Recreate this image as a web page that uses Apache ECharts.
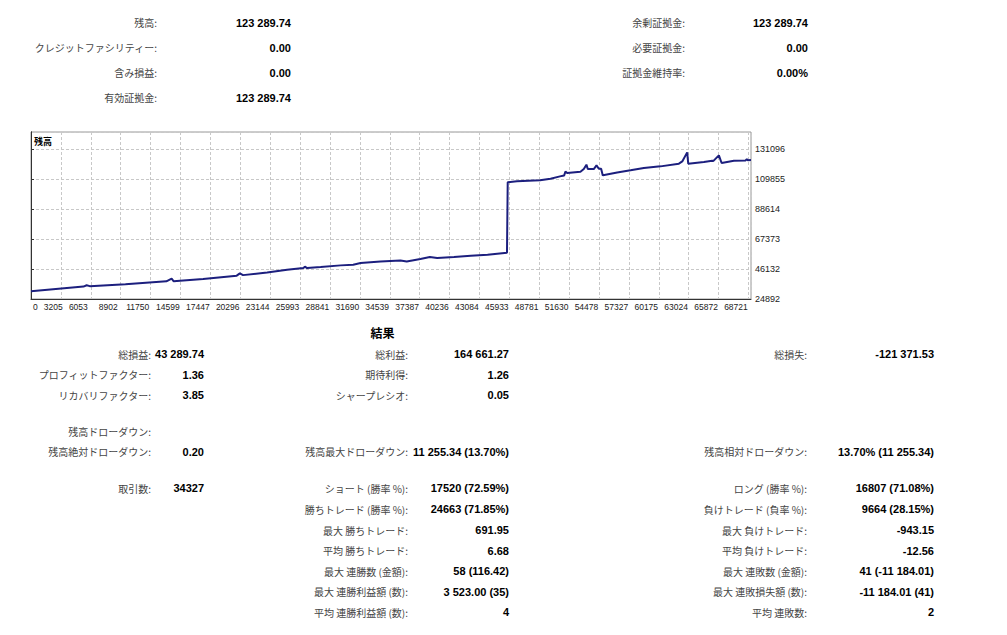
<!DOCTYPE html>
<html lang="ja">
<head>
<meta charset="UTF-8">
<title>残高</title>
<style>
  * { margin: 0; padding: 0; box-sizing: border-box; }
  body { background: #fff; }
  #report { width: 1007px; height: 635px; }
</style>
<script src="https://cdn.jsdelivr.net/npm/echarts@6/dist/echarts.min.js"></script>
</head>
<body>
<div id="report"></div>
<script>
// 残高カーブ (取引番号, 残高)
const balanceX = [0, 5000, 5300, 5600, 9000, 12900, 13400, 13600, 14200, 16400, 19600, 19900, 20200,
  22500, 24400, 25950, 26100, 26300, 27600, 29500, 30700, 31400, 33300, 35200, 35800, 37100, 38000,
  38700, 40300, 41900, 43500, 45350, 45420, 46300, 48500, 49500, 50400, 50800, 50920, 51080, 52350,
  52670, 52920, 53050, 53620, 53880, 54100, 54320, 54480, 54740, 55850, 57120, 58390, 59980, 61730,
  62050, 62520, 62620, 64110, 64900, 65000, 65540, 65800, 66970, 68090, 68200, 68300, 68600];
const balanceY = [30300, 33700, 34600, 34000, 35400, 37400, 39300, 37400, 37800, 39000, 41400, 43000, 41800,
  43700, 45600, 46800, 47800, 46800, 47500, 48700, 49200, 50400, 51500, 52200, 51500, 53200, 54600,
  53900, 54600, 55500, 56300, 57600, 107500, 108200, 108900, 110100, 111700, 112400, 115200, 114100, 115000,
  116900, 120000, 116900, 116900, 119500, 117100, 117100, 112400, 112900, 114500, 116000, 117600, 118800, 120700,
  122300, 128700, 120700, 121900, 122800, 122500, 126600, 121200, 122800, 123000, 123900, 123100, 123290];

// 軸ラベル
const xLabels = ['0', '3205', '6053', '8902', '11750', '14599', '17447', '20296', '23144', '25993', '28841',
  '31690', '34539', '37387', '40236', '43084', '45933', '48781', '51630', '54478', '57327', '60175',
  '63024', '65872', '68721'];
const yLabels = ['24892', '46132', '67373', '88614', '109855', '131096'];

// 口座情報
const topLeftLabels = ['残高:', 'クレジットファシリティー:', '含み損益:', '有効証拠金:'];
const topLeftValues = ['123 289.74', '0.00', '0.00', '123 289.74'];
const topRightLabels = ['余剰証拠金:', '必要証拠金:', '証拠金維持率:'];
const topRightValues = ['123 289.74', '0.00', '0.00%'];

// 結果
const resLeftLabels = ['総損益:', 'プロフィットファクター:', 'リカバリファクター:', '', '残高ドローダウン:', '残高絶対ドローダウン:'];
const resLeftValues = ['43 289.74', '1.36', '3.85', '', '', '0.20'];
const resMidLabels = ['総利益:', '期待利得:', 'シャープレシオ:', '', '', '残高最大ドローダウン:'];
const resMidValues = ['164 661.27', '1.26', '0.05', '', '', '11 255.34 (13.70%)'];
const resRightLabels = ['総損失:', '', '', '', '', '残高相対ドローダウン:'];
const resRightValues = ['-121 371.53', '', '', '', '', '13.70% (11 255.34)'];

// 取引
const tradeLeftLabels = ['取引数:'];
const tradeLeftValues = ['34327'];
const tradeMidLabels = ['ショート (勝率 %):', '勝ちトレード (勝率 %):', '最大 勝ちトレード:', '平均 勝ちトレード:',
  '最大 連勝数 (金額):', '最大 連勝利益額 (数):', '平均 連勝利益額 (数):'];
const tradeMidValues = ['17520 (72.59%)', '24663 (71.85%)', '691.95', '6.68', '58 (116.42)', '3 523.00 (35)', '4'];
const tradeRightLabels = ['ロング (勝率 %):', '負けトレード (負率 %):', '最大 負けトレード:', '平均 負けトレード:',
  '最大 連敗数 (金額):', '最大 連敗損失額 (数):', '平均 連敗数:'];
const tradeRightValues = ['16807 (71.08%)', '9664 (28.15%)', '-943.15', '-12.56', '41 (-11 184.01)', '-11 184.01 (41)', '2'];

// レイアウト
const X_STEP = 2848.5, X_MAX = 68600;
const Y_MIN = 24892, Y_STEP = 21241, Y_MAX = 143133;
const topRowsY = [22.5, 47.5, 72.5, 97.5];
const resRowsY = [354, 374.5, 395, 415, 431, 451.5];
const tradeRowsY = [488, 509, 530, 550.5, 571, 591.5, 612];

const labelFont = '"Noto Sans CJK JP", sans-serif';
const valueFont = '"Liberation Sans", Arial, sans-serif';

const graphics = [];

function addColumn(labels, values, rowsY, labelX, valueX) {
  labels.forEach(function (txt, i) {
    if (txt) {
      graphics.push({
        type: 'text', x: labelX, y: rowsY[i], silent: true,
        style: { text: txt, align: 'right', verticalAlign: 'middle', fontSize: 10,
          fontFamily: labelFont, fill: '#444' }
      });
    }
    if (values[i]) {
      graphics.push({
        type: 'text', x: valueX, y: rowsY[i], silent: true,
        style: { text: values[i], align: 'right', verticalAlign: 'middle', fontSize: 11,
          fontWeight: 'bold', fontFamily: valueFont, fill: '#000' }
      });
    }
  });
}

addColumn(topLeftLabels, topLeftValues, topRowsY, 157, 291);
addColumn(topRightLabels, topRightValues, topRowsY, 685, 808);
addColumn(resLeftLabels, resLeftValues, resRowsY, 151, 204);
addColumn(resMidLabels, resMidValues, resRowsY, 408, 509);
addColumn(resRightLabels, resRightValues, resRowsY, 807, 934);
addColumn(tradeLeftLabels, tradeLeftValues, tradeRowsY, 151, 204);
addColumn(tradeMidLabels, tradeMidValues, tradeRowsY, 408, 509);
addColumn(tradeRightLabels, tradeRightValues, tradeRowsY, 807, 934);

graphics.push({
  type: 'text', x: 382.5, y: 332.5, silent: true,
  style: { text: '結果', align: 'center', verticalAlign: 'middle', fontSize: 12, fontWeight: 'bold',
    fontFamily: labelFont, fill: '#000' }
});
graphics.push({
  type: 'text', x: 34, y: 141.5, silent: true, z: 10,
  style: { text: '残高', align: 'left', verticalAlign: 'middle', fontSize: 9, fontWeight: 'bold',
    fontFamily: labelFont, fill: '#000' }
});

const balanceData = balanceX.map(function (x, i) { return [x, balanceY[i]]; });

function stepIndex(v, min, step) {
  const k = (v - min) / step;
  if (Math.abs(k - Math.round(k)) > 1e-6) return -1;
  return Math.round(k);
}

const gridLine = { show: true, lineStyle: { color: '#c8c8c8', width: 1, type: [3, 2] } };
const axisColor = '#333';
const tickText = { fontSize: 8.5, color: '#222', fontFamily: valueFont };

const chart = echarts.init(document.getElementById('report'), null, { renderer: 'svg' });

chart.setOption({
  animation: false,
  backgroundColor: '#fff',
  grid: { left: 31, top: 132, width: 720, height: 167, show: true, borderColor: '#999', borderWidth: 1,
    backgroundColor: '#fff' },
  xAxis: {
    type: 'value', min: 0, max: X_MAX, interval: X_STEP,
    axisLine: { show: true, lineStyle: { color: axisColor } },
    axisTick: { show: false },
    splitLine: gridLine,
    axisLabel: {
      margin: 3, align: 'left', showMaxLabel: false, showMinLabel: true,
      fontSize: 8.5, color: '#222', fontFamily: valueFont,
      formatter: function (v) {
        const k = stepIndex(v, 0, X_STEP);
        if (k < 0 || k + 1 >= xLabels.length) return '';
        if (k === 0) return '{z|' + xLabels[0] + '}{f|' + xLabels[1] + '}';
        const txt = xLabels[k + 1];
        return (txt.length > 4 ? '{n|' : '{s|') + txt + '}';
      },
      rich: {
        z: Object.assign({ padding: [0, 0, 0, 2] }, tickText),
        f: Object.assign({ padding: [0, 0, 0, 6] }, tickText),
        s: Object.assign({ padding: [0, 0, 0, 8] }, tickText),
        n: Object.assign({ padding: [0, 0, 0, 5.5] }, tickText)
      }
    }
  },
  yAxis: [{
    type: 'value', position: 'right', min: Y_MIN, max: Y_MAX, interval: Y_STEP,
    axisLine: { show: true, lineStyle: { color: axisColor } },
    axisTick: { show: true, length: 3, lineStyle: { color: axisColor } },
    splitLine: gridLine,
    axisLabel: {
      margin: 4, showMaxLabel: false, fontSize: 9, color: '#222', fontFamily: valueFont,
      formatter: function (v) {
        const k = stepIndex(v, Y_MIN, Y_STEP);
        return k < 0 || k >= yLabels.length ? '' : yLabels[k];
      }
    }
  }, {
    type: 'value', position: 'left', min: Y_MIN, max: Y_MAX, interval: Y_STEP,
    axisLine: { show: true, lineStyle: { color: axisColor } },
    axisTick: { show: false }, axisLabel: { show: false }, splitLine: { show: false }
  }],
  series: [{
    name: '残高', type: 'line', data: balanceData, yAxisIndex: 0,
    showSymbol: false, lineStyle: { color: '#1c1f7e', width: 2 }
  }],
  graphic: graphics
});
</script>
</body>
</html>
